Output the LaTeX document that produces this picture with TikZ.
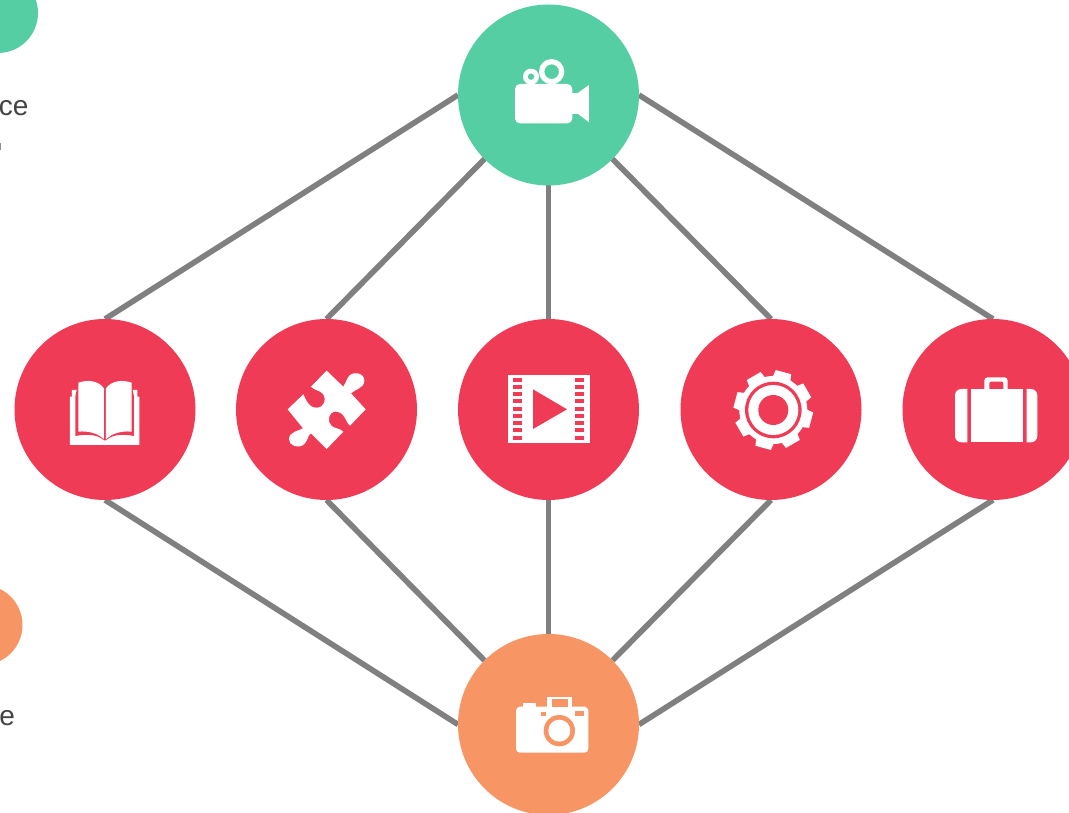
\documentclass[tikz,border=0pt]{standalone}
\usepackage{fontspec}
\setmainfont{Liberation Sans}
\definecolor{cgreen}{HTML}{56CEA4}
\definecolor{cred}{HTML}{EF3B55}
\definecolor{corange}{HTML}{F79664}
\definecolor{cline}{HTML}{808080}
\definecolor{ctext}{HTML}{444444}
\tikzset{
  disc/.style={circle,draw=none,inner sep=0pt,outer sep=0pt,minimum size=181pt},
  smalldisc/.style={circle,draw=none,inner sep=0pt,outer sep=0pt,minimum size=80pt},
  link/.style={draw=cline,line width=5.6pt},
  cuttext/.style={inner sep=0pt,outer sep=0pt,text=ctext,font=\fontsize{28}{30}\selectfont,anchor=base east},
  zoomed/.style={x=0.3333pt,y=-0.3333pt}
}
\begin{document}
\begin{tikzpicture}[x=1pt,y=-1pt]
\useasboundingbox (0,0) rectangle (1069,813);
\clip (0,0) rectangle (1069,813);
\fill[white] (0,0) rectangle (1069,813);

% connectors are drawn first, discs on top
\node[disc] (top) at (548.5,95) {};
\node[disc] (a) at (105,409.5) {};
\node[disc] (b) at (326.5,409.5) {};
\node[disc] (c) at (548.5,409.5) {};
\node[disc] (d) at (771,409.5) {};
\node[disc] (e) at (993,409.5) {};
\node[disc] (bot) at (548.5,724.5) {};

\draw[link] (top.west) -- (a.north);
\draw[link] (top.south west) -- (b.north);
\draw[link] (top.south) -- (c.north);
\draw[link] (top.south east) -- (d.north);
\draw[link] (top.east) -- (e.north);
\draw[link] (a.south) -- (bot.west);
\draw[link] (b.south) -- (bot.north west);
\draw[link] (c.south) -- (bot.north);
\draw[link] (d.south) -- (bot.north east);
\draw[link] (e.south) -- (bot.east);

\fill[cgreen] (top) circle[radius=90.5pt];
\fill[cred] (a) circle[radius=90.5pt];
\fill[cred] (b) circle[radius=90.5pt];
\fill[cred] (c) circle[radius=90.5pt];
\fill[cred] (d) circle[radius=90.5pt];
\fill[cred] (e) circle[radius=90.5pt];
\fill[corange] (bot) circle[radius=90.5pt];

% cut-off legend at the left
\node[smalldisc,fill=cgreen] (lg) at (-2,13) {};
\node[smalldisc,fill=corange] (lo) at (-17.5,625) {};
\node[cuttext] (lgt) at (28.5,116) {ce};
\node[cuttext] (lot) at (15,725.5) {e};
\fill[ctext!60] (0,143) rectangle (1.2,150);

% video camera
\begin{scope}[shift={(490,40)},zoomed]
\fill[white,rounded corners=5pt] (75,132) rectangle (247,250);
\fill[white] (240,160) rectangle (265,222);
\fill[white] (262,160) -- (297,135) -- (297,247) -- (262,220) -- cycle;
\fill[white,even odd rule] (185,95) circle[radius=38] (185,95) circle[radius=22];
\fill[white,even odd rule] (123,110) circle[radius=24] (123,110) circle[radius=10];
\end{scope}

% book
\begin{scope}[shift={(50,360)},zoomed]
\fill[white] (60,110) -- (66,110) -- (66,90) -- (262,90) -- (262,110) -- (268,110) -- (268,255) -- (60,255) -- cycle;
\fill[cred] (80,90) -- (248,90) -- (252,110) -- (252,228)
  .. controls (215,220) and (185,225) .. (168,241) -- (162,241)
  .. controls (145,225) and (115,220) .. (76,228) -- (76,110) -- cycle;
\fill[white] (85,68) .. controls (115,58) and (145,62) .. (162,85) -- (162,238)
  .. controls (145,220) and (115,212) .. (85,215) -- cycle;
\fill[white] (245,68) .. controls (215,58) and (185,62) .. (168,85) -- (168,238)
  .. controls (185,220) and (215,212) .. (245,215) -- cycle;
\end{scope}

% puzzle piece
\begin{scope}[shift={(275,360)},zoomed]
\fill[white] (155,32) -- (205,80)
  .. controls (212,72) and (212,62) .. (222,48)
  .. controls (235,33) and (268,38) .. (268,62)
  .. controls (268,85) and (240,88) .. (228,100)
  -- (272,148) -- (225,197)
  .. controls (212,188) and (210,155) .. (182,155)
  .. controls (160,155) and (155,185) .. (170,198)
  .. controls (180,206) and (195,205) .. (205,215)
  -- (155,267) -- (108,220)
  .. controls (98,225) and (100,240) .. (88,252)
  .. controls (72,268) and (42,258) .. (42,238)
  .. controls (42,215) and (72,212) .. (84,205)
  -- (38,148) -- (85,103)
  .. controls (92,115) and (98,143) .. (125,143)
  .. controls (148,143) and (155,118) .. (145,103)
  .. controls (135,90) and (118,92) .. (108,80) -- cycle;
\end{scope}

% film strip
\begin{scope}[shift={(495,360)},zoomed]
\fill[white] (38,45) rectangle (285,248);
\foreach \yy in {60,82,103,124,146,168,190,211,233}{
  \fill[cred] (55,\yy-6) rectangle (80,\yy+6);
  \fill[cred] (240,\yy-6) rectangle (267,\yy+6);
}
\fill[cred] (114,88) -- (216,148) -- (114,207) -- cycle;
\end{scope}

% gear
\begin{scope}[shift={(773.3,410)}]
\fill[white] (0pt,0pt) circle[radius=34pt];
\foreach \ang in {75,30,-15,-60,-105,-150,165,120}{
  \fill[white] (\ang-17:32pt) -- (\ang-11.5:40pt) -- (\ang+11.5:40pt) -- (\ang+17:32pt) -- cycle;
}
\fill[cred] (0pt,0pt) circle[radius=28.3pt];
\fill[white] (0pt,0pt) circle[radius=25pt];
\fill[cred] (0pt,0pt) circle[radius=15pt];
\end{scope}

% suitcase
\begin{scope}[shift={(945,365)},zoomed]
\fill[white] (78,72) rectangle (235,232);
\fill[white] (67,72) -- (50,72) .. controls (38,72) and (30,80) .. (30,92) -- (30,212)
  .. controls (30,224) and (38,232) .. (50,232) -- (67,232) -- cycle;
\fill[white] (245,72) -- (257,72) .. controls (269,72) and (277,80) .. (277,92) -- (277,212)
  .. controls (277,224) and (269,232) .. (257,232) -- (245,232) -- cycle;
\fill[white,even odd rule] (118,75) -- (118,47) .. controls (118,41) and (122,37) .. (128,37) -- (178,37)
  .. controls (184,37) and (188,41) .. (188,47) -- (188,75) -- cycle
  (133,75) -- (133,53) .. controls (133,51) and (134,50) .. (136,50) -- (172,50)
  .. controls (174,50) and (175,51) .. (175,53) -- (175,75) -- cycle;
\end{scope}

% photo camera
\begin{scope}[shift={(505,685)},zoomed]
\fill[white,rounded corners=4pt] (33,203) -- (33,65) -- (250,65) -- (250,203) -- cycle;
\fill[white] (53,55) rectangle (92,68);
\fill[white] (127,35) rectangle (202,68);
\fill[corange] (142,42) rectangle (188,65);
\fill[corange] (108,80) rectangle (123,92);
\fill[corange] (210,78) rectangle (238,92);
\fill[corange] (163,137) circle[radius=47];
\fill[white] (163,137) circle[radius=33];
\end{scope}
\end{tikzpicture}
\end{document}
